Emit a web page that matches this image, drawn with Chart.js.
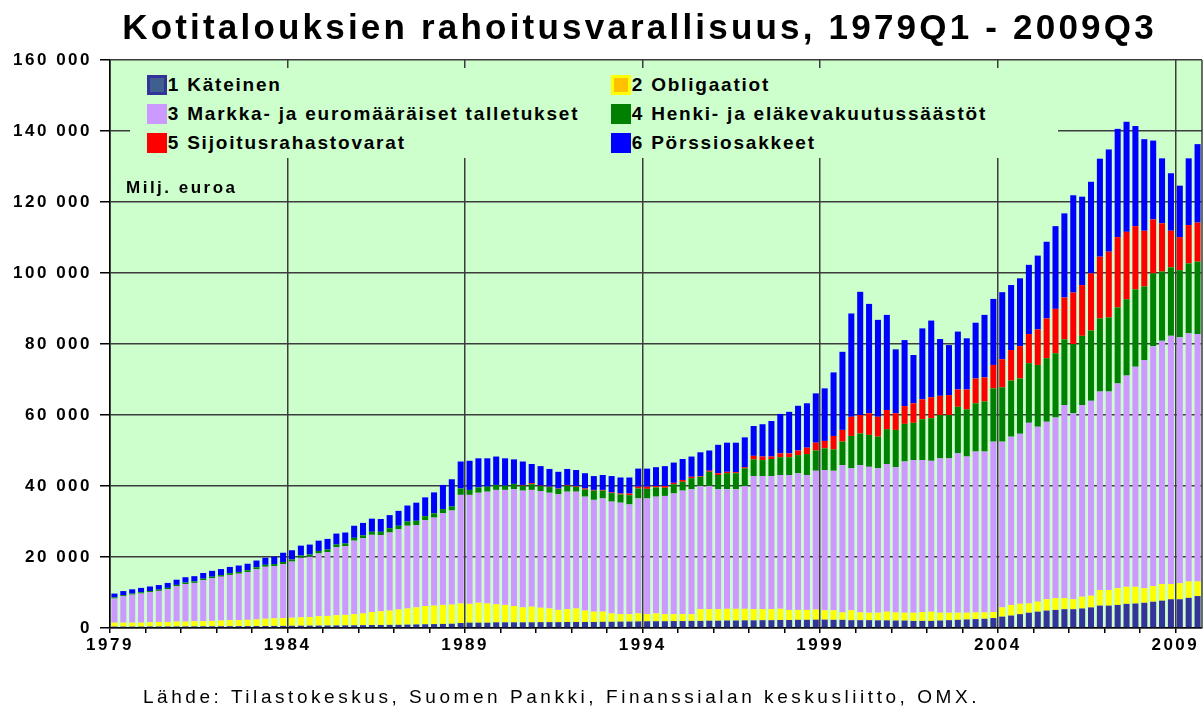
<!DOCTYPE html>
<html>
<head>
<meta charset="utf-8">
<title>Kotitalouksien rahoitusvarallisuus</title>
<script src="https://cdn.jsdelivr.net/npm/chart.js@4.4.1/dist/chart.umd.min.js"></script>
<style>
  html, body { margin: 0; padding: 0; background: #fff; }
  #wrap { position: relative; width: 1203px; height: 715px; overflow: hidden;
          font-family: "Liberation Sans", Arial, sans-serif; color: #000; }
  #chart { position: absolute; left: 0; top: 0; }
  .title { position: absolute; left: 38px; top: 7px; width: 1203px; text-align: center;
           font-size: 35px; font-weight: bold; line-height: 40px; letter-spacing: 3.2px; white-space: nowrap; }
  .unit { position: absolute; left: 126px; top: 178px; font-size: 17px; font-weight: bold;
          line-height: 20px; letter-spacing: 2.5px; white-space: nowrap; }
  .source { position: absolute; left: 143px; top: 687px; font-size: 19px; line-height: 20px;
            letter-spacing: 3.55px; white-space: nowrap; }
  #legend { position: absolute; left: 130px; top: 68px; width: 928px; height: 90px; background: #CCFFCC; }
  #legend .item { position: absolute; display: flex; align-items: center; height: 20px;
                  font-size: 19px; font-weight: bold; letter-spacing: 1.8px; white-space: nowrap; line-height: 20px; }
  #legend .sw { display: inline-block; width: 20px; height: 20px; box-sizing: border-box;
                border: 3px solid; margin-right: 1px; }
</style>
</head>
<body>
<div id="wrap">
  <canvas id="chart" width="1203" height="715"></canvas>
  <div class="title">Kotitalouksien rahoitusvarallisuus, 1979Q1 - 2009Q3</div>
  <div id="legend"></div>
  <div class="unit">Milj. euroa</div>
  <div class="source">Lähde: Tilastokeskus, Suomen Pankki, Finanssialan keskusliitto, OMX.</div>
</div>
<script>
// quarters 1979Q1 .. 2009Q3
var quarters = [];
for (var yy = 1979; yy <= 2009; yy++) {
  for (var q = 1; q <= 4; q++) {
    if (yy === 2009 && q === 4) break;
    quarters.push(yy + "Q" + q);
  }
}
var yearTicks = [1979, 1984, 1989, 1994, 1999, 2004, 2009];

// milj. euroa
var kateinen = [
  400,400,400,400,420,420,430,440,450,460, 480,490,500,510,520,530,550,560,580,600,
  620,640,660,680,700,720,740,760,800,830, 860,
  880,900,950,1000,1050,1100,1150,1200,1400,1500, 1500,1500,1600,1600,1600,1600,1600,1650,1650,1650,
  1700,1700,1700,1700,1750,1750,1800,1800,1850,1900, 1900,
  1900,1950,1950,2000,2000,2050,2050,2100,2100,2150, 2150,2200,2200,2250,2250,2300,2300,2350,2350,2300,
  2300,2200,2200,2200,2150,2150,2100,2100,2000,2000, 2000,
  2100,2200,2300,2400,2500,2600,2800,3200,3500,3900, 4300,4600,4900,5100,5300,5300,5500,5800,6300,6300,
  6500,6800,6900,7100,7400,7700,8100,8100,8500,9000
];
var obligaatiot = [
  1100,1100,1100,1100,1180,1280,1270,1360,1350,1440, 1420,1510,1600,1690,1680,1770,1850,2040,2120,2200,
  2280,2360,2440,2620,2700,2880,2960,3140,3300,3670, 3840,
  4020,4300,4550,4800,5150,5200,5350,5400,5500,5300, 5600,5400,5100,4900,4600,4200,4400,4050,3850,3450,
  3600,3800,3200,2900,2850,2350,2100,2100,2250,2000, 2200,
  2000,1950,1950,1900,3300,3250,3250,3300,3300,3250, 3150,3100,3100,3150,2850,2800,2800,2850,2650,2700,
  2100,2800,2200,2100,2150,2450,2300,2200,2300,2500, 2600,
  2200,2100,2000,1900,1900,1800,1700,2600,3000,2900, 2600,2800,3200,3300,3100,2800,3300,3300,4400,4400,
  4700,4800,4700,4100,4400,4700,4300,4500,4600,4100
];
var talletukset = [
  6800,7450,7900,8200,8450,8750,9200,9950,10600,10800, 11550,12000,12350,12750,13100,13450,14150,14650,14750,15200,
  15800,16750,16950,17700,18000,19150,19350,20700,21200,21750, 21500,
  22000,22600,23300,23200,24200,24800,25800,26500,30600,30700, 31000,31500,32200,32400,32900,32900,32900,32900,32600,32600,
  33100,32900,32100,31500,31900,31500,31400,30900,32400,32600, 32900,
  33300,34000,34800,35200,34700,34700,33800,33700,33700,34600, 37500,37500,37500,37700,38000,38500,38000,39100,39500,39300,
  41500,40000,41500,41100,40700,41600,40900,42600,43000,42800, 42500,
  43500,43500,44900,44000,45300,45300,48000,46700,47400,47900, 50900,49300,50000,50900,54400,52400,54000,54900,55900,55900,
  57700,59500,62000,64300,67600,68500,69900,69300,69900,69700
];
var vakuutukset = [
  300,300,300,350,350,350,400,400,400,400, 450,450,450,500,500,500,550,550,550,600,
  600,650,650,700,700,750,750,800,800,850, 900,
  1200,1000,1200,1200,1100,1200,1200,1100,1800,1400, 1500,1400,1400,1200,1500,1400,1600,1400,1600,1500,
  1700,1400,2000,2600,2200,2400,2300,2600,2800,2700, 2600,
  2300,2600,2500,3100,2600,4000,4000,4500,4500,5000, 4700,4500,4800,5000,5000,5100,5900,5700,6100,6000,
  6600,9100,8900,9000,8900,9800,10500,10600,10500,11500, 12000,
  12200,12200,13100,13300,13600,14100,15000,15300,15800,15600, 16800,17400,17900,18100,18500,19500,19500,19800,20600,20900,
  21400,21500,21800,20700,20500,19500,19300,18900,19700,20400
];
var rahastot = [
  0,0,0,0,0,0,0,0,0,0, 0,0,0,0,0,0,0,0,0,0,
  0,0,0,0,0,0,0,0,0,0, 0,
  0,0,0,0,0,0,0,0,0,0, 0,0,0,0,0,200,300,100,100,100,
  200,200,300,200,200,200,300,500,500,600, 400,
  500,400,500,400,200,300,500,400,300,300, 1000,1000,700,1100,1100,1300,1800,2200,2100,3800,
  3300,5400,5200,6100,5600,5400,4700,5000,5500,5600, 5900,
  5400,5600,4900,5600,7000,6800,6600,7900,8600,9100, 8200,10000,11200,12500,11800,14500,14300,16100,17400,18500,
  19800,19000,17800,15700,15200,13600,10300,9300,10800,11000
];
var osakkeet = [
  1100,1150,1200,1250,1300,1300,1400,1450,1500,1500, 1600,1650,1700,1750,1800,1850,1900,2000,2100,2600,
  2600,2800,2800,2900,3000,3100,3100,3400,3500,3700, 3600,
  3700,4200,4500,5100,5300,5900,6800,7700,7600,8200, 8200,8000,8000,7700,6900,6600,5400,5500,5000,4700,
  4500,4500,4300,3900,4200,4600,4500,4500,5100,5100, 5300,
  5600,5700,5900,5700,6700,5700,8000,8200,8300,8400, 8400,9100,10000,11100,11700,12600,12500,13900,14800,17900,
  22000,29100,34700,30800,27300,26800,18000,18600,13600,20000, 21600,
  16000,14100,16300,14400,15700,17600,18600,18900,18300,19100, 19500,20800,21600,23300,23700,27400,24900,25800,27600,28800,
  30500,31000,28200,25800,22200,18300,16200,14500,18800,22100
];

var seriesNames = [
  "1 Käteinen", "2 Obligaatiot", "3 Markka- ja euromääräiset talletukset",
  "4 Henki- ja eläkevakuutussäästöt", "5 Sijoitusrahastovarat", "6 Pörssiosakkeet"
];
var seriesColors = ["#333399", "#FFFF00", "#CC99FF", "#008000", "#FF0000", "#0000FF"];
var legendInner = ["#3F5F8F", "#FFC000", "#CC99FF", "#008000", "#FF0000", "#0000FF"];
var seriesData = [kateinen, obligaatiot, talletukset, vakuutukset, rahastot, osakkeet];

var tickFont = { family: "'Liberation Sans', Arial, sans-serif", size: 17, weight: "bold" };

function thousands(v) {
  return String(v).replace(/\B(?=(\d{3})+(?!\d))/g, " ");
}

// green plot area, border, wide letter spacing like the original
var plotBackground = {
  id: "plotBackground",
  beforeLayout: function (chart) {
    chart.ctx.letterSpacing = "2.5px";
  },
  beforeDraw: function (chart) {
    var ctx = chart.ctx, a = chart.chartArea;
    ctx.letterSpacing = "2.5px";
    ctx.save();
    ctx.fillStyle = "#CCFFCC";
    ctx.fillRect(a.left, a.top, a.right - a.left, a.bottom - a.top);
    ctx.restore();
  },
  afterDraw: function (chart) {
    var ctx = chart.ctx, a = chart.chartArea;
    ctx.save();
    ctx.strokeStyle = "#3c3c3c";
    ctx.lineWidth = 1.5;
    ctx.beginPath();
    ctx.moveTo(a.right, a.top);
    ctx.lineTo(a.right, a.bottom);
    ctx.stroke();
    ctx.restore();
  }
};

// two column legend inside the plot, as html
var htmlLegend = {
  id: "htmlLegend",
  afterUpdate: function (chart) {
    var box = document.getElementById("legend");
    box.innerHTML = "";
    chart.data.datasets.forEach(function (ds, i) {
      var item = document.createElement("div");
      item.className = "item";
      item.style.left = (i % 2 === 0 ? 16.7 : 480.7) + "px";
      item.style.top = (7 + Math.floor(i / 2) * 29) + "px";
      var sw = document.createElement("span");
      sw.className = "sw";
      sw.style.borderColor = ds.borderColor;
      sw.style.background = legendInner[i];
      var tx = document.createElement("span");
      tx.textContent = ds.label;
      item.appendChild(sw);
      item.appendChild(tx);
      box.appendChild(item);
    });
  }
};

var datasets = seriesNames.map(function (name, i) {
  return {
    label: name,
    data: seriesData[i],
    backgroundColor: seriesColors[i],
    borderColor: seriesColors[i],
    borderWidth: 0,
    barPercentage: 0.68,
    categoryPercentage: 1.0
  };
});

var ctx = document.getElementById("chart").getContext("2d");
var myChart = new Chart(ctx, {
  type: "bar",
  data: { labels: quarters, datasets: datasets },
  options: {
    responsive: false,
    animation: false,
    devicePixelRatio: 1,
    layout: { padding: { top: 60, right: 1, bottom: 57, left: 0 } },
    plugins: {
      legend: { display: false },
      tooltip: { enabled: false }
    },
    scales: {
      x: { type: "category", stacked: true, display: false, offset: true },
      // year axis: only for ticks, labels and the 5-year lines
      yr: {
        type: "linear",
        position: "bottom",
        min: 1979,
        max: 2009.75,
        offset: false,
        afterFit: function (s) { s.height = 30; },
        ticks: {
          stepSize: 1,
          includeBounds: false,
          autoSkip: false,
          maxRotation: 0,
          padding: 2,
          color: "#000",
          font: tickFont,
          callback: function (v) { return yearTicks.indexOf(v) >= 0 ? String(v) : ""; }
        },
        grid: {
          offset: false,
          color: function (c) {
            return c.tick && yearTicks.indexOf(c.tick.value) >= 0 ? "#3c3c3c" : "rgba(0,0,0,0)";
          },
          lineWidth: 1.5,
          tickColor: "#000",
          tickLength: 5
        },
        border: { color: "#000", width: 1.5 }
      },
      y: {
        stacked: true,
        min: 0,
        max: 160000,
        afterFit: function (s) { s.width = 110; },
        ticks: {
          stepSize: 20000,
          padding: 8,
          color: "#000",
          font: tickFont,
          callback: function (v) { return thousands(v); }
        },
        grid: { color: "#3c3c3c", lineWidth: 1.5, tickColor: "#000", tickLength: 10 },
        border: { color: "#000", width: 1.5 }
      }
    }
  },
  plugins: [plotBackground, htmlLegend]
});
</script>
</body>
</html>
